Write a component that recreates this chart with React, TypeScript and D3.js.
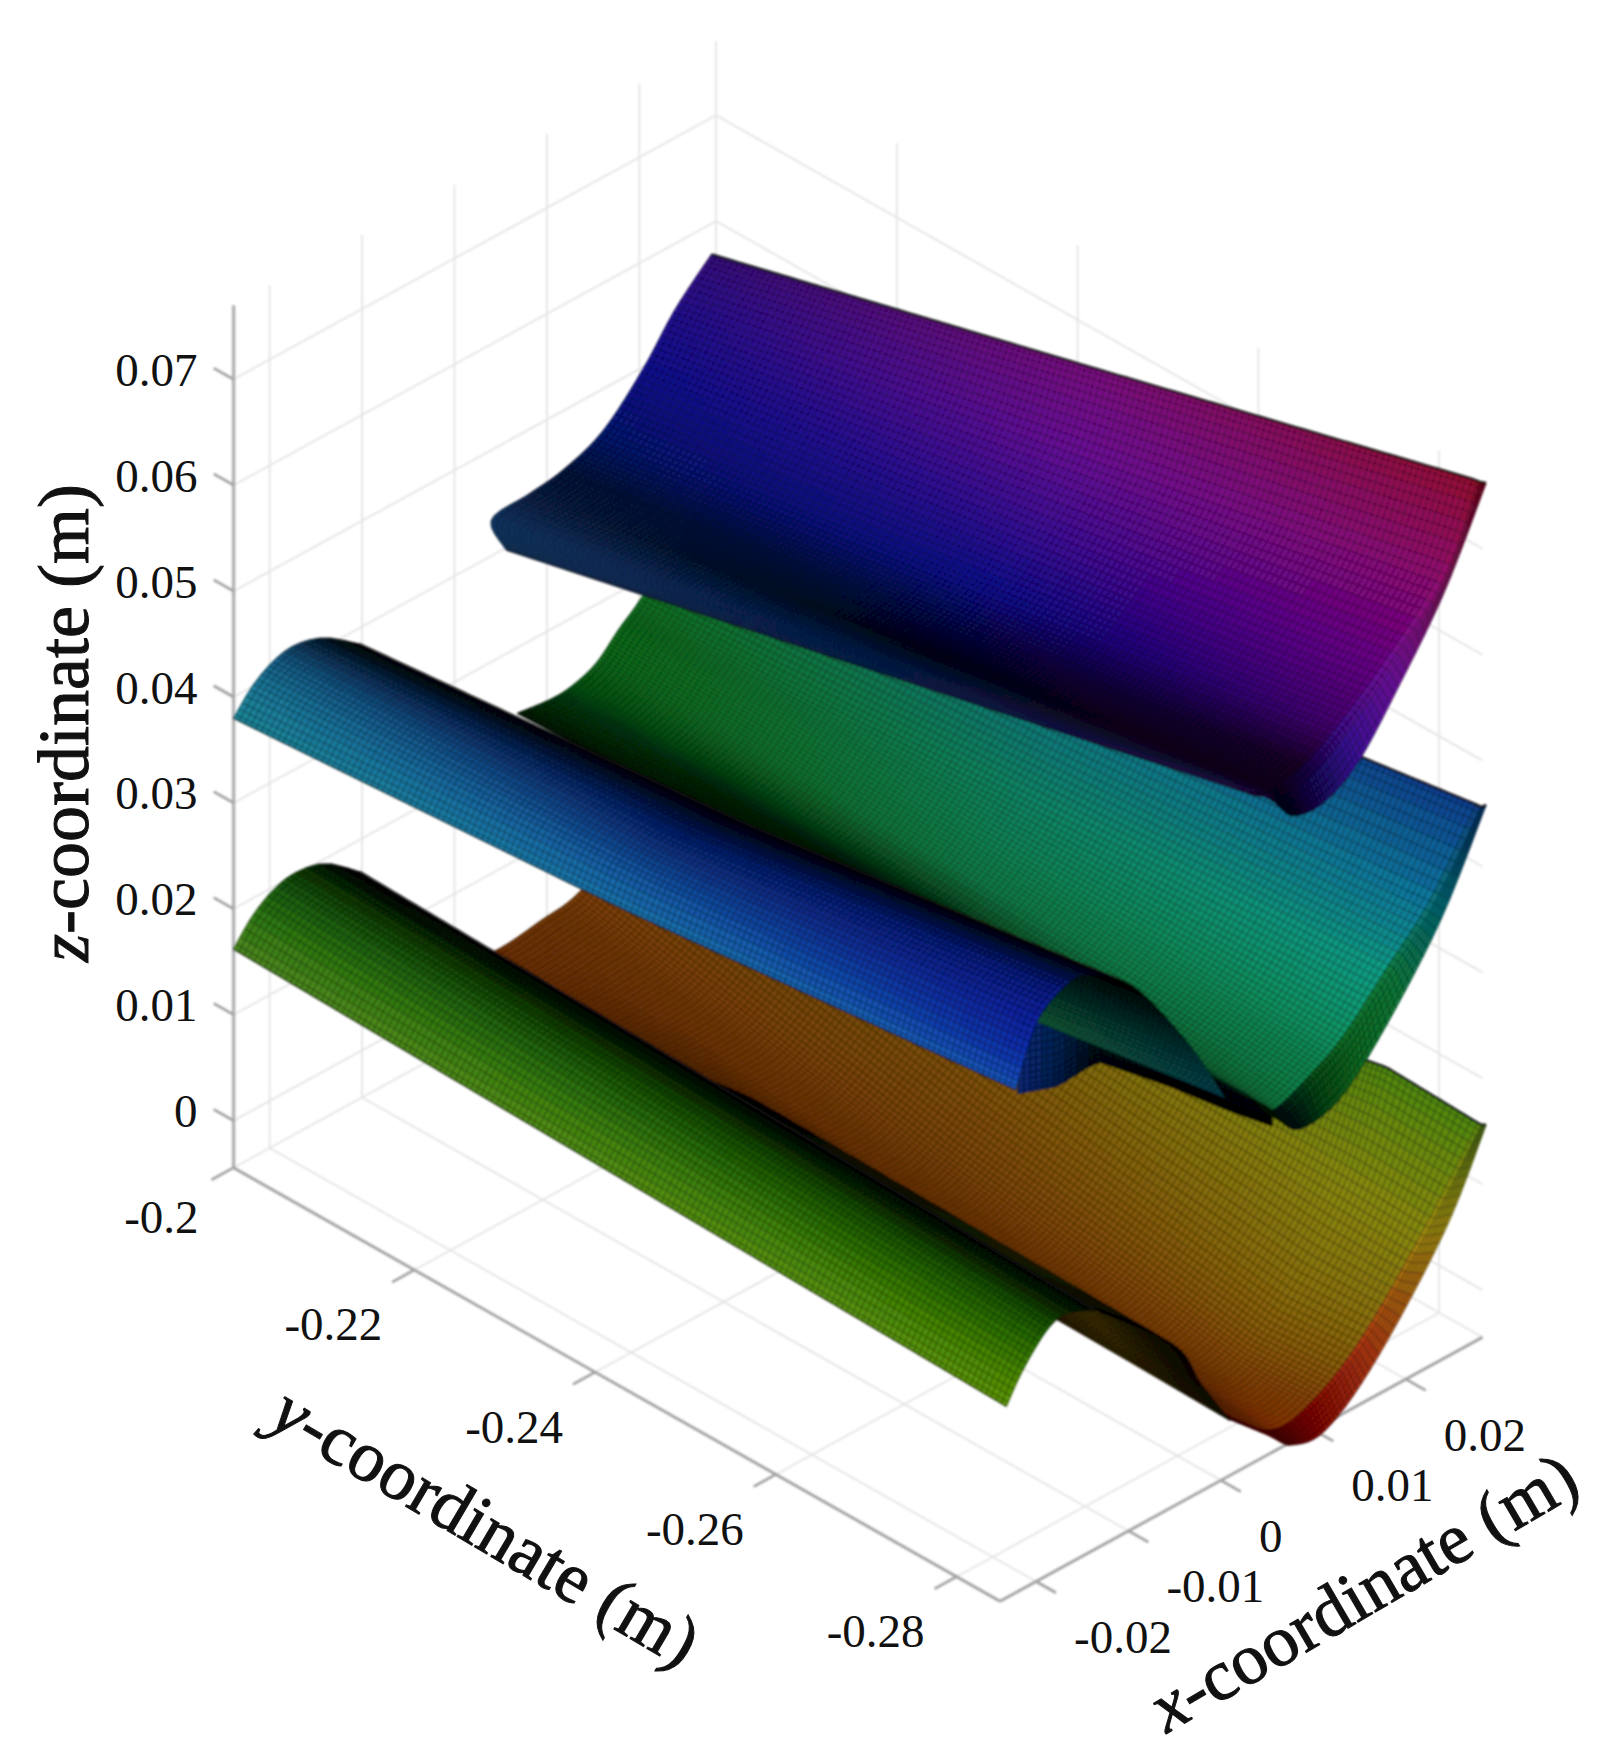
import React, { useEffect, useRef } from 'react';
import * as d3 from 'd3';

const WIDTH = 1617;
const HEIGHT = 1752;

// axis limits and ticks
const xLimits = [-0.0239, 0.0283];
const yLimits = [-0.2, -0.2848];
const zLimits = [-0.00445, 0.077];
const xTicks = [-0.02, -0.01, 0, 0.01, 0.02];
const yTicks = [-0.2, -0.22, -0.24, -0.26, -0.28];
const zTicks = [0, 0.01, 0.02, 0.03, 0.04, 0.05, 0.06, 0.07];

// bottom sheet, far part (valley) : stations along y, profile across x
const brownY = [-0.2, -0.24, -0.2742, -0.282, -0.2824, -0.2853];
const brownX = [
  [-0.0001, 0.005, 0.0093, 0.0135, 0.019, 0.0239, 0.028],
  [0.0002, 0.0049, 0.0092, 0.0128, 0.0181, 0.0243, 0.0281],
  [0.0005, 0.0048, 0.0085, 0.012, 0.017, 0.024, 0.0283],
  [0.0005, 0.0046, 0.0085, 0.0126, 0.0178, 0.0244, 0.0305],
  [0.0005, 0.0046, 0.0085, 0.0126, 0.0178, 0.0244, 0.0305],
  [0.0005, 0.0048, 0.0072, 0.0109, 0.0163, 0.0237, 0.0282],
];
const brownZ = [
  [0.0028, 0.0025, 0.003, 0.0037, 0.007, 0.0093, 0.0126],
  [0.0019, -0.0007, -0.0022, -0.0016, 0.0019, 0.007, 0.01],
  [0.0015, -0.002, -0.0042, -0.0041, -0.0007, 0.0066, 0.0159],
  [0.0014, -0.0023, -0.005, -0.0043, -0.001, 0.0059, 0.0134],
  [0.0014, -0.0023, -0.005, -0.0043, -0.001, 0.0059, 0.0134],
  [0.0013, -0.0023, -0.0043, -0.0046, -0.0006, 0.008, 0.0159],
];
const brownColor = [
  ['#2a1404', '#7a3608', '#7a3a08', '#804008', '#6a4a08', '#6a5a08', '#5a6a08'],
  ['#0a0402', '#3a1a04', '#7a3a08', '#7a4208', '#805008', '#806a08', '#6a7a08'],
  ['#0a0402', '#5a2404', '#8a3c08', '#8a4a08', '#8a6a08', '#8a8a0c', '#4e8a10'],
  ['#2a1204', '#8a2c04', '#9a3806', '#8a4608', '#8a6a08', '#8a8a10', '#4e8a10'],
  ['#3a0a02', '#6a0402', '#5a0000', '#8a0804', '#b03a10', '#a08a10', '#5a8a10'],
  ['#3a0a02', '#6a0402', '#5a0000', '#8a0804', '#b03a10', '#a08a10', '#5a8a10'],
];

// bottom sheet, underside seen at the open end
const lowerInnerY = [-0.24, -0.274, -0.2853];
const lowerInnerX = [
  [-0.0141, -0.0056, -0.0026, 0.0005],
  [-0.0141, -0.0056, -0.0026, 0.0005],
  [-0.0141, -0.0056, -0.0026, 0.0005],
];
const lowerInnerZ = [
  [0.0193, 0.012, 0.0068, 0.0019],
  [0.0188, 0.0115, 0.0063, 0.0014],
  [0.0186, 0.0113, 0.0061, 0.0012],
];
const lowerInnerColor = [
  ['#020201', '#030301', '#0a0802', '#1a1404'],
  ['#1a2a06', '#2a2806', '#4a3806', '#3a2a06'],
  ['#0a0a02', '#050402', '#0a0802', '#1a1404'],
];

// bottom sheet, near hump
const greenY = [-0.2, -0.2853];
const greenX = [
  [-0.0239, -0.0218, -0.0194, -0.017, -0.0139, -0.0103],
  [-0.0237, -0.0223, -0.0206, -0.019, -0.0172, -0.0141],
];
const greenZ = [
  [0.0162, 0.0184, 0.0198, 0.0202, 0.0195, 0.017],
  [0.0141, 0.0162, 0.0181, 0.0194, 0.0198, 0.0186],
];
const greenColor = [
  ['#4e8a20', '#2f7a12', '#1a5e0c', '#0d3f06', '#021002', '#000000'],
  ['#5f9a08', '#4a8a04', '#2c7204', '#185604', '#0a2a02', '#020200'],
];

// dark piece under the middle sheet, its lower rim is the crest above the brown part
const wedgeY = [-0.26, -0.2644, -0.2688, -0.2769, -0.2831, -0.2881];
const wedgeX = [
  [0.0023, 0.0023],
  [0.0023, 0.0023],
  [0.0023, 0.0023],
  [0.0023, 0.0023],
  [0.0023, 0.0023],
  [0.0023, 0.0023],
];
const wedgeZ = [
  [0.019, 0.028],
  [0.0218, 0.0308],
  [0.0263, 0.0353],
  [0.0278, 0.0368],
  [0.0286, 0.0376],
  [0.0295, 0.0385],
];
const wedgeColor = [
  ['#0a2a7a', '#0a2a7a'],
  ['#041a4a', '#042a5a'],
  ['#01040a', '#03202a'],
  ['#000000', '#021a2a'],
  ['#000000', '#031a2a'],
  ['#000000', '#04202a'],
];

// middle sheet, far part
const tealY = [-0.2, -0.2428, -0.282, -0.2824, -0.2853];
const tealX = [
  [0.0068, 0.0105, 0.0129, 0.0154, 0.0178, 0.02, 0.0239, 0.028],
  [0.006, 0.0091, 0.0109, 0.014, 0.017, 0.0203, 0.0246, 0.028],
  [0.0052, 0.0077, 0.0089, 0.0126, 0.0162, 0.0205, 0.0254, 0.0305],
  [0.0052, 0.0077, 0.0089, 0.0126, 0.0162, 0.0205, 0.0254, 0.0305],
  [0.0045, 0.0057, 0.0078, 0.0109, 0.0139, 0.0188, 0.0237, 0.0282],
];
const tealZ = [
  [0.0238, 0.0234, 0.0236, 0.0245, 0.0265, 0.0281, 0.0316, 0.0354],
  [0.0261, 0.0247, 0.0244, 0.0255, 0.0275, 0.0302, 0.0342, 0.0404],
  [0.0283, 0.0258, 0.025, 0.0264, 0.0284, 0.0322, 0.0366, 0.0434],
  [0.0283, 0.0258, 0.025, 0.0264, 0.0284, 0.0322, 0.0366, 0.0434],
  [0.0283, 0.0271, 0.0252, 0.0253, 0.027, 0.032, 0.0382, 0.0461],
];
const tealColor = [
  ['#021a06', '#043a0a', '#085a10', '#0a6a18', '#0a7018', '#0c7020', '#0c7030', '#0a6a40'],
  ['#020a08', '#021a08', '#063a18', '#108048', '#108858', '#108868', '#107a80', '#0a5a90'],
  ['#063a20', '#0a6a38', '#0e7a40', '#108a50', '#109a68', '#10a088', '#0a7aa0', '#0a3a90'],
  ['#021a08', '#020f06', '#020a10', '#084a14', '#0a6a20', '#0a7a38', '#087078', '#0a3a80'],
  ['#021a08', '#020f06', '#020a10', '#084a14', '#0a6a20', '#0a7a38', '#087078', '#0a3a80'],
];

// middle sheet, underside at the open end
const upperInnerY = [-0.25, -0.2656, -0.2853];
const upperInnerX = [
  [-0.0117, -0.0087, -0.0038, -0.0001],
  [-0.0117, -0.0087, -0.0038, -0.0001],
  [-0.0117, -0.0087, -0.0038, -0.0001],
];
const upperInnerZ = [
  [0.0438, 0.0407, 0.0336, 0.027],
  [0.0461, 0.043, 0.0359, 0.0293],
  [0.0488, 0.0457, 0.0386, 0.032],
];
const upperInnerColor = [
  ['#000000', '#020a0c', '#083828', '#0f6a40'],
  ['#000000', '#020a0c', '#083828', '#0f6a40'],
  ['#000000', '#000808', '#043030', '#0a4a5a'],
];

// middle sheet, near hump
const blueY = [-0.2, -0.2428, -0.2853];
const blueX = [
  [-0.0239, -0.0218, -0.0194, -0.017, -0.0139, -0.0103],
  [-0.0233, -0.0218, -0.0198, -0.0174, -0.014, -0.0101],
  [-0.0227, -0.0217, -0.0202, -0.0178, -0.0154, -0.0117],
];
const blueZ = [
  [0.038, 0.0401, 0.0414, 0.0417, 0.0408, 0.0385],
  [0.0402, 0.0426, 0.044, 0.0446, 0.044, 0.042],
  [0.0435, 0.0462, 0.0491, 0.0506, 0.0509, 0.0487],
];
const blueColor = [
  ['#1a8a9a', '#1a7a9a', '#14608a', '#0c3a60', '#041420', '#000000'],
  ['#1a7ab0', '#145aa8', '#0c3a8a', '#062070', '#020a30', '#000000'],
  ['#1a5ac0', '#0a30b0', '#0a20a0', '#081a80', '#040a30', '#000000'],
];

// top sheet
const purpleY = [-0.2, -0.2428, -0.282, -0.2824, -0.2853];
const purpleX = [
  [0.0056, 0.004, 0.0081, 0.0117, 0.016, 0.0203, 0.0239, 0.0278],
  [0.0058, 0.0056, 0.0085, 0.0119, 0.0158, 0.0204, 0.0252, 0.0278],
  [0.0059, 0.0073, 0.0089, 0.012, 0.0156, 0.0205, 0.0266, 0.0303],
  [0.0059, 0.0073, 0.0089, 0.012, 0.0156, 0.0205, 0.0266, 0.0303],
  [0.0045, 0.0057, 0.0074, 0.0106, 0.0143, 0.0188, 0.0237, 0.0282],
];
const purpleZ = [
  [0.0398, 0.0434, 0.0439, 0.0444, 0.046, 0.0497, 0.0538, 0.0571],
  [0.0483, 0.0498, 0.0498, 0.0504, 0.0521, 0.0557, 0.0606, 0.0669],
  [0.0562, 0.0557, 0.0552, 0.0558, 0.0578, 0.0613, 0.0668, 0.0742],
  [0.0562, 0.0557, 0.0552, 0.0558, 0.0578, 0.0613, 0.0668, 0.0742],
  [0.0585, 0.0568, 0.055, 0.0547, 0.0567, 0.0619, 0.0684, 0.0765],
];
const purpleColor = [
  ['#0f3f72', '#0e3a6c', '#0a2048', '#06133a', '#061570', '#0a0a90', '#220a90', '#3a0a80'],
  ['#0c2f70', '#082058', '#030418', '#06084a', '#0a0a90', '#3a0a98', '#6a0a98', '#800a80'],
  ['#3a0a70', '#1a0a40', '#120020', '#1a0028', '#450070', '#6a0088', '#900a70', '#9a0a30'],
  ['#2a0a60', '#10082a', '#05051a', '#18085a', '#3a0e98', '#7010a0', '#9a1070', '#8b0a20'],
  ['#2a0a60', '#10082a', '#05051a', '#18085a', '#3a0e98', '#7010a0', '#9a1070', '#8b0a20'],
];

type Sheet = { y: number[]; x: number[][]; z: number[][]; color: string[][]; edge: boolean };

const sheets: Sheet[] = [
  { y: brownY, x: brownX, z: brownZ, color: brownColor, edge: true },
  { y: lowerInnerY, x: lowerInnerX, z: lowerInnerZ, color: lowerInnerColor, edge: false },
  { y: greenY, x: greenX, z: greenZ, color: greenColor, edge: true },
  { y: wedgeY, x: wedgeX, z: wedgeZ, color: wedgeColor, edge: false },
  { y: tealY, x: tealX, z: tealZ, color: tealColor, edge: true },
  { y: upperInnerY, x: upperInnerX, z: upperInnerZ, color: upperInnerColor, edge: false },
  { y: blueY, x: blueX, z: blueZ, color: blueColor, edge: true },
  { y: purpleY, x: purpleX, z: purpleZ, color: purpleColor, edge: true },
];

// oblique projection of the box
const cornerX = 233.6;
const cornerY = 1167.8;
const xToX = d3.scaleLinear().domain(xLimits).range([0, 482.5]);
const xToY = d3.scaleLinear().domain(xLimits).range([0, -264]);
const yToX = d3.scaleLinear().domain(yLimits).range([0, 766.4]);
const yToY = d3.scaleLinear().domain(yLimits).range([0, 433.5]);
const zToY = d3.scaleLinear().domain([0, 0.01]).range([-47.2, -153.1]);

const project = (x: number, y: number, z: number): [number, number] => [
  cornerX + xToX(x) + yToX(y),
  cornerY + xToY(x) + yToY(y) + zToY(z),
];

const spline = (vals: number[], t: number) => {
  const n = vals.length - 1;
  const p = Math.min(t * n, n - 1e-9);
  const i = Math.floor(p);
  const f = p - i;
  const a = vals[Math.max(i - 1, 0)];
  const b = vals[i];
  const c = vals[i + 1];
  const d = vals[Math.min(i + 2, n)];
  return 0.5 * (2 * b + (c - a) * f + (2 * a - 5 * b + 4 * c - d) * f * f + (3 * b - a - 3 * c + d) * f * f * f);
};

const line = d3.line();

function drawSheet(g: any, sheet: Sheet) {
  const tint = sheet.color.map((c) => d3.piecewise(d3.interpolateRgb, c));
  const lastY = sheet.y.length - 1;
  const locate = (s: number) => {
    const yy = sheet.y[0] + (sheet.y[lastY] - sheet.y[0]) * s;
    let j = 0;
    while (j < lastY - 1 && yy < sheet.y[j + 1]) j++;
    return { yy, j, f: (yy - sheet.y[j]) / (sheet.y[j + 1] - sheet.y[j]) };
  };
  const at = (s: number, t: number) => {
    const { yy, j, f } = locate(s);
    const x = spline(sheet.x[j], t) * (1 - f) + spline(sheet.x[j + 1], t) * f;
    const z = spline(sheet.z[j], t) * (1 - f) + spline(sheet.z[j + 1], t) * f;
    return project(x, yy, z);
  };
  const colorAt = (s: number, t: number) => {
    const { j, f } = locate(s);
    return d3.interpolateRgb(tint[j](t), tint[j + 1](t))(f);
  };

  // mesh size from the size on screen
  const a = at(0, 0.5);
  const b = at(1, 0.5);
  const rows = Math.max(4, Math.round(Math.hypot(a[0] - b[0], a[1] - b[1]) / 5.9));
  let across = 0;
  for (let k = 0; k < 20; k++) {
    const p = at(1, k / 20);
    const q = at(1, (k + 1) / 20);
    across += Math.hypot(p[0] - q[0], p[1] - q[1]);
  }
  const cols = Math.max(4, Math.round(across / 5.9));

  const grid: [number, number][][] = d3.range(rows + 1).map((r) => d3.range(cols + 1).map((c) => at(r / rows, c / cols)));

  const step = 2;
  const cells: { d: string; fill: string }[] = [];
  for (let r = 0; r < rows; r += step) {
    for (let c = Math.floor((cols - 1) / step) * step; c >= 0; c -= step) {
      const r2 = Math.min(r + step, rows);
      const c2 = Math.min(c + step, cols);
      const d = line([grid[r][c], grid[r][c2], grid[r2][c2], grid[r2][c]]) + 'Z';
      cells.push({ d, fill: colorAt((r + r2) / 2 / rows, (c + c2) / 2 / cols) });
    }
  }
  const sg = g.append('g');
  sg.selectAll('path')
    .data(cells)
    .join('path')
    .attr('d', (d: any) => d.d)
    .attr('fill', (d: any) => d.fill)
    .attr('stroke', (d: any) => d.fill)
    .attr('stroke-width', 0.8);

  const mesh: string[] = [];
  grid.forEach((row) => mesh.push(line(row) as string));
  d3.range(cols + 1).forEach((c) => mesh.push(line(grid.map((row) => row[c])) as string));
  sg.append('path')
    .attr('d', mesh.join(''))
    .attr('fill', 'none')
    .attr('stroke', '#000')
    .attr('stroke-opacity', 0.38)
    .attr('stroke-width', 1.3);

  if (sheet.edge) {
    [0, cols].forEach((c) => {
      sg.append('path')
        .attr('d', line(grid.map((row) => row[c])))
        .attr('fill', 'none')
        .attr('stroke', '#0a0a0a')
        .attr('stroke-opacity', c === 0 ? 0.55 : 0.85)
        .attr('stroke-width', c === 0 ? 1.5 : 2.6);
    });
  }
}

export default function App() {
  const svgRef = useRef<SVGSVGElement | null>(null);

  useEffect(() => {
    const svg = d3.select(svgRef.current);
    svg.selectAll('*').remove();

    const defs = svg.append('defs');
    defs.append('filter').attr('id', 'soft').append('feGaussianBlur').attr('stdDeviation', 0.9);
    defs.append('filter').attr('id', 'softer').append('feGaussianBlur').attr('stdDeviation', 1.1);

    const [xMin, xMax] = xLimits;
    const [y0, y1] = yLimits;
    const [zMin, zMax] = zLimits;

    const segment = (g: any, a: number[], b: number[], color: string, w: number) =>
      g
        .append('line')
        .attr('x1', project(a[0], a[1], a[2])[0])
        .attr('y1', project(a[0], a[1], a[2])[1])
        .attr('x2', project(b[0], b[1], b[2])[0])
        .attr('y2', project(b[0], b[1], b[2])[1])
        .attr('stroke', color)
        .attr('stroke-width', w);

    // walls and floor
    const gridG = svg.append('g').attr('filter', 'url(#softer)');
    const gridColor = '#e4e4e4';
    xTicks.forEach((x) => {
      segment(gridG, [x, y0, zMin], [x, y0, zMax], gridColor, 1.8);
      segment(gridG, [x, y0, zMin], [x, y1, zMin], gridColor, 1.8);
    });
    yTicks.slice(1).forEach((y) => {
      segment(gridG, [xMax, y, zMin], [xMax, y, zMax], gridColor, 1.8);
      segment(gridG, [xMin, y, zMin], [xMax, y, zMin], gridColor, 1.8);
    });
    zTicks.forEach((z) => {
      segment(gridG, [xMin, y0, z], [xMax, y0, z], gridColor, 1.8);
      segment(gridG, [xMax, y0, z], [xMax, y1, z], gridColor, 1.8);
    });
    segment(gridG, [xMax, y0, zMin], [xMax, y0, zMax], gridColor, 1.8);
    segment(gridG, [xMax, y0, zMin], [xMax, y1, zMin], gridColor, 1.8);
    segment(gridG, [xMax, y0, zMin], [xMin, y0, zMin], gridColor, 1.8);

    // axes
    const axisG = svg.append('g').attr('filter', 'url(#soft)');
    const axisColor = '#a0a0a0';
    segment(axisG, [xMin, y0, zMin], [xMin, y0, zMax], '#b0b0b4', 3.4);
    segment(axisG, [xMin, y0, zMin], [xMin, y1, zMin], axisColor, 2.8);
    segment(axisG, [xMin, y1, zMin], [xMax, y1, zMin], axisColor, 2.8);
    const tickX = 0.0024;
    const tickY = 0.0022;
    zTicks.forEach((z) => segment(axisG, [xMin, y0, z], [xMin, y0 + tickY, z], axisColor, 2.6));
    yTicks.forEach((y) => segment(axisG, [xMin, y, zMin], [xMin - tickX, y, zMin], axisColor, 2.6));
    xTicks.forEach((x) => segment(axisG, [x, y1, zMin], [x, y1 - tickY, zMin], axisColor, 2.6));

    // surfaces, back to front
    const surf = svg.append('g').attr('filter', 'url(#soft)');
    sheets.forEach((s) => drawSheet(surf, s));

    // tick labels
    const text = svg.append('g').attr('font-family', '"Liberation Serif"').attr('fill', '#111');
    const tickFont = 47;
    zTicks.forEach((z) => {
      const p = project(xMin, y0, z);
      text
        .append('text')
        .attr('x', p[0] - 36)
        .attr('y', p[1] - 9)
        .attr('dy', '0.33em')
        .attr('text-anchor', 'end')
        .attr('font-size', tickFont)
        .text(String(z));
    });
    yTicks.forEach((y) => {
      const p = project(xMin, y, zMin);
      const first = y === -0.2;
      text
        .append('text')
        .attr('x', first ? p[0] - 35 : p[0] - 81)
        .attr('y', first ? p[1] + 50 : p[1] + 55)
        .attr('dy', '0.33em')
        .attr('text-anchor', first ? 'end' : 'middle')
        .attr('font-size', tickFont)
        .text(String(y));
    });
    xTicks.forEach((x) => {
      const p = project(x, y1, zMin);
      text
        .append('text')
        .attr('x', p[0] + 38)
        .attr('y', p[1] + 56)
        .attr('dy', '0.33em')
        .attr('text-anchor', 'start')
        .attr('font-size', tickFont)
        .text(String(x));
    });

    // axis titles
    const title = (cx: number, cy: number, angle: number, letter: string) => {
      const t = text
        .append('text')
        .attr('transform', `translate(${cx},${cy}) rotate(${angle})`)
        .attr('text-anchor', 'middle')
        .attr('dy', '0.33em')
        .attr('font-size', 72)
        .attr('stroke', '#111')
        .attr('stroke-width', 1);
      t.append('tspan').attr('font-style', 'italic').text(letter);
      t.append('tspan').text('-coordinate (m)');
    };
    title(64, 723, -90, 'z');
    title(486, 1526, 30.5, 'y');
    title(1363, 1592, -30.2, 'x');
  }, []);

  return <svg ref={svgRef} width={WIDTH} height={HEIGHT} style={{ position: 'absolute', left: 0, top: 0, background: '#fff' }} />;
}
